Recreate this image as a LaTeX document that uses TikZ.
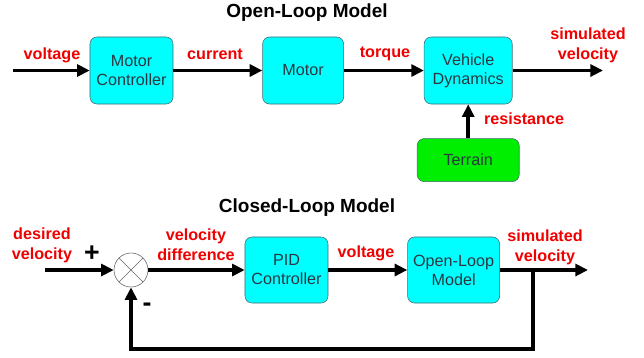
\documentclass[tikz,border=0pt]{standalone}
\usepackage{fontspec}
\setmainfont{Liberation Sans}
\usetikzlibrary{arrows.meta,positioning,calc}
\definecolor{BlockCyan}{RGB}{0,255,255}
\definecolor{TerrainGreen}{RGB}{0,238,0}
\definecolor{BlockEdge}{RGB}{70,105,110}
\definecolor{BlockText}{RGB}{45,55,65}
\definecolor{SignalRed}{RGB}{240,0,0}

\begin{document}
\begin{tikzpicture}[
    x=0.025cm, y=-0.025cm,
    >={Triangle[length=9pt,width=8.5pt]},
    block/.style={rectangle, rounded corners=5pt, draw=BlockEdge, fill=BlockCyan,
                  text=BlockText, font=\fontsize{11.5}{13.5}\selectfont,
                  align=center, minimum height=1.675cm, inner sep=1pt},
    signal/.style={text=SignalRed, font=\fontsize{11.5}{14}\selectfont\bfseries, align=center},
    heading/.style={font=\fontsize{13.5}{16}\selectfont\bfseries},
    sign/.style={font=\fontsize{19}{20}\selectfont\bfseries},
    arrow/.style={->, line width=2.8pt},
    summer/.style={circle, draw=black!60, fill=white, minimum size=0.85cm, inner sep=0pt,
                   path picture={\draw[black!60]
                     (path picture bounding box.north west) -- (path picture bounding box.south east)
                     (path picture bounding box.north east) -- (path picture bounding box.south west);}}
]
\useasboundingbox (0,0) rectangle (644,357);

% open-loop model
\node[heading] (olTitle) at (307,13) {Open-Loop Model};

\node[block, minimum width=2.075cm] (motorCtrl) at (131.5,70.5) {Motor\\Controller};
\node[block, minimum width=2.025cm, right=2.225cm of motorCtrl] (motor) {Motor};
\node[block, minimum width=2.2cm, right=2cm of motor] (vehicle) {Vehicle\\Dynamics};
\node[block, fill=TerrainGreen, minimum width=2.55cm, minimum height=1.075cm,
      below=0.85cm of vehicle] (terrain) {Terrain};

\coordinate (olIn) at (13,70.5);
\coordinate (olOut) at (603,70.5);

\draw[arrow] (olIn) -- (motorCtrl);
\draw[arrow] (motorCtrl) -- (motor);
\draw[arrow] (motor) -- (vehicle);
\draw[arrow] (vehicle) -- (olOut);
\draw[arrow] (terrain) -- (vehicle);

\node[signal] (olVoltage) at (52,55) {voltage};
\node[signal] (olCurrent) at (215,54) {current};
\node[signal] (olTorque) at (385,54) {torque};
\node[signal] (olSimVel) at (588,45.5) {simulated\\velocity};
\node[signal] (olResist) at (524,119) {resistance};

% closed-loop model
\node[heading] (clTitle) at (307,208) {Closed-Loop Model};

\node[summer] (sum) at (131,270) {};
\node[block, minimum width=2.075cm, minimum height=1.65cm] (pid) at (286.5,270) {PID\\Controller};
\node[block, minimum width=2.3cm, minimum height=1.65cm, right=1.975cm of pid] (openLoop) {Open-Loop\\Model};

\coordinate (clIn) at (45,270);
\coordinate (clOut) at (588,270);
\coordinate (branch) at (533,270);
\coordinate (loopCorner) at (533,349);

\draw[arrow] (clIn) -- (sum);
\draw[arrow] (sum) -- (pid);
\draw[arrow] (pid) -- (openLoop);
\draw[arrow] (openLoop) -- (clOut);
\draw[arrow] (branch) -- (loopCorner) -| (sum);

\node[signal] (clDesired) at (42,245) {desired\\velocity};
\node[signal] (clDiff) at (196,245) {velocity\\difference};
\node[signal] (clVoltage) at (366,253) {voltage};
\node[signal] (clSimVel) at (545,247) {simulated\\velocity};

\node[sign] (plusSign) at (92,254) {+};
\node[sign] (minusSign) at (147,307) {-};

\end{tikzpicture}
\end{document}
